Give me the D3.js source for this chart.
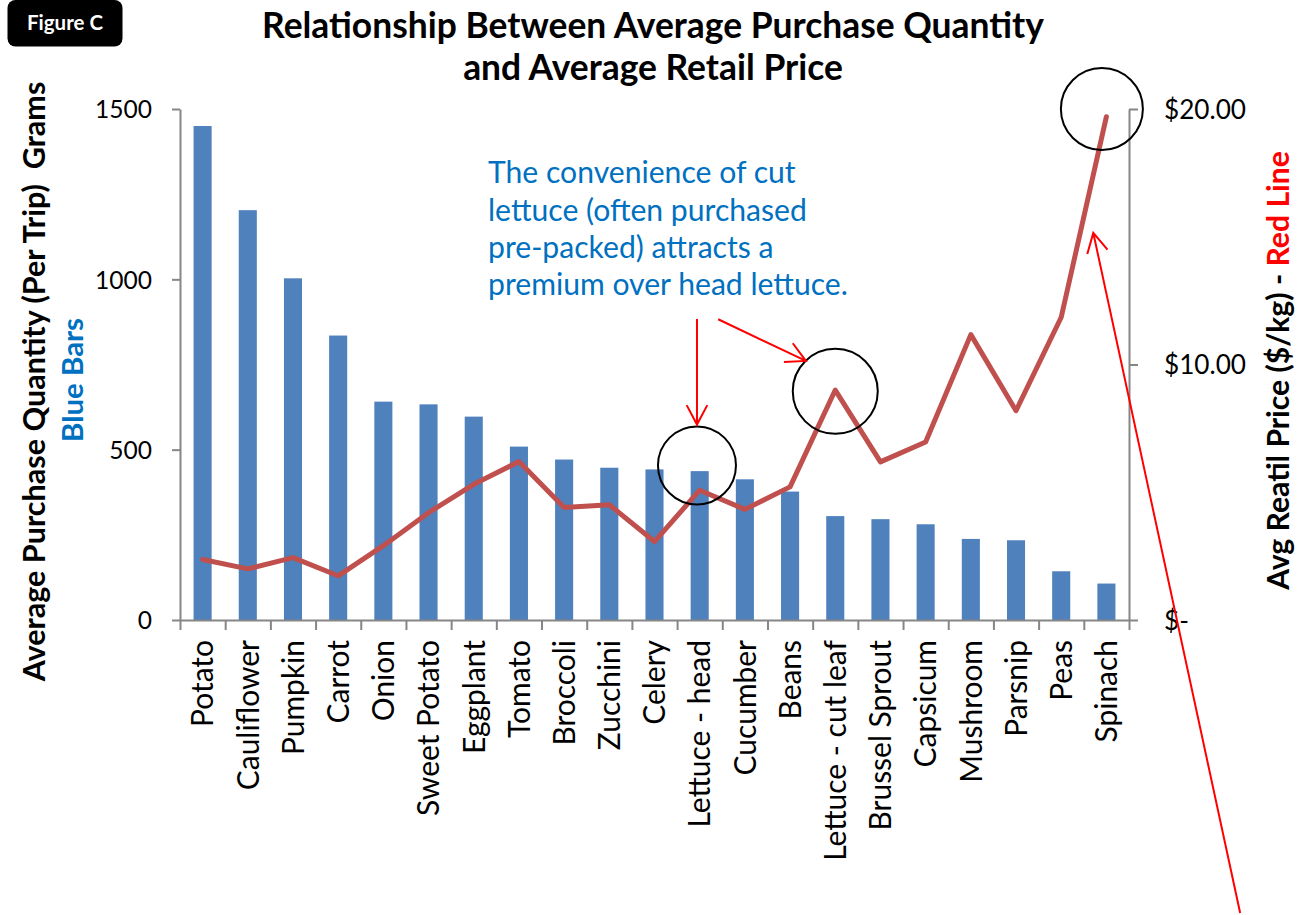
<!DOCTYPE html>
<html>
<head>
<meta charset="utf-8">
<script src="https://cdn.jsdelivr.net/npm/d3@7"></script>
<style>
  html, body { margin: 0; padding: 0; background: #fff; }
  svg { display: block; }
  text { font-family: Lato, "Open Sans", sans-serif; }
</style>
</head>
<body>
<svg id="chart" width="1303" height="915"></svg>
<script>
// Vegetables, ordered by average purchase quantity
const categories = ["Potato", "Cauliflower", "Pumpkin", "Carrot", "Onion", "Sweet Potato",
  "Eggplant", "Tomato", "Broccoli", "Zucchini", "Celery", "Lettuce - head", "Cucumber",
  "Beans", "Lettuce - cut leaf", "Brussel Sprout", "Capsicum", "Mushroom", "Parsnip",
  "Peas", "Spinach"];

// Average purchase quantity per trip (grams) – blue bars
const quantity = [1450, 1203, 1003, 835, 641, 633, 597, 509, 471, 447, 442, 437, 413,
  377, 305, 296, 281, 238, 234, 143, 107];

// Average retail price ($/kg) – red line
const price = [2.37, 2.00, 2.44, 1.73, 2.91, 4.20, 5.31, 6.20, 4.40, 4.51, 3.07, 5.08,
  4.33, 5.21, 9.00, 6.19, 6.97, 11.17, 8.19, 11.85, 19.7];

// Axis ticks
const quantityTicks = [0, 500, 1000, 1500];
const priceTicks = [0, 10, 20];

// Callout circles: centre given as (category position, price)
const calloutCircles = [
  { at: 11.44, price: 6.05, r: 39 },
  { at: 14.5, price: 8.95, r: 42.5 },
  { at: 20.4, price: 20.0, r: 41 }
];
// Callout arrows: from -> to in (category position, price)
const calloutArrows = [
  { from: [11.44, 11.78], to: [11.44, 7.65] },
  { from: [11.91, 11.77], to: [13.85, 10.14] },
  { from: [23.46, -11.47], to: [20.21, 15.15] }
];

const noteLines = ["The convenience of cut", "lettuce (often purchased",
  "pre-packed) attracts a", "premium over head lettuce."];

const svg = d3.select("#chart");
const plotLeft = 180, plotRight = 1129, plotTop = 109, plotBottom = 620;
const axisColor = "#868686";

const x = d3.scaleBand().domain(categories).range([plotLeft, plotRight])
  .paddingInner(0.6).paddingOuter(0.3);
const pos = d3.scaleLinear().domain([0, categories.length]).range([plotLeft, plotRight]);
const yQ = d3.scaleLinear().domain([0, 1500]).range([plotBottom, plotTop]);
const yP = d3.scaleLinear().domain([0, 20]).range([plotBottom, plotTop]);

// scale a text's font so that it spans the given length
function fitTo(sel, target) {
  const fs = parseFloat(sel.attr("font-size"));
  const len = sel.node().getComputedTextLength();
  const size = fs * target / len;
  sel.attr("font-size", size);
  return size;
}

// Bars
svg.append("g").selectAll("rect").data(categories).join("rect")
  .attr("x", d => x(d))
  .attr("width", x.bandwidth())
  .attr("y", (d, i) => yQ(quantity[i]))
  .attr("height", (d, i) => yQ(0) - yQ(quantity[i]))
  .attr("fill", "#4F81BD");

// Left axis
const gL = svg.append("g").attr("transform", `translate(${plotLeft},0)`)
  .call(d3.axisLeft(yQ).tickValues(quantityTicks).tickSize(8).tickSizeOuter(0).tickPadding(20)
    .tickFormat(d3.format("d")));
// Right axis
const gR = svg.append("g").attr("transform", `translate(${plotRight},0)`)
  .call(d3.axisRight(yP).tickValues(priceTicks).tickSize(9).tickSizeOuter(0).tickPadding(26)
    .tickFormat(d => d === 0 ? "$-" : "$" + d.toFixed(2)));
// Bottom axis: category boundary ticks
const gB = svg.append("g").attr("transform", `translate(0,${plotBottom})`)
  .call(d3.axisBottom(pos).tickValues(d3.range(0, categories.length + 1))
    .tickSize(10).tickSizeOuter(0).tickFormat(""));
// Bottom axis: category labels
const gLab = svg.append("g").attr("transform", `translate(0,${plotBottom})`)
  .call(d3.axisBottom(x).tickSize(0));
gLab.select(".domain").remove();

[gL, gR, gB].forEach(g => {
  g.selectAll("path.domain, line").attr("stroke", axisColor).attr("stroke-width", 2);
});
[gL, gR, gB, gLab].forEach(g => g.attr("font-family", null).attr("font-size", null));

gL.selectAll("text").attr("font-size", 26).attr("fill", "#000").attr("dy", "0.36em");
const tickSize = fitTo(gL.selectAll("text").filter(d => d === 1500), 57);
gL.selectAll("text").attr("font-size", tickSize);
gR.selectAll("text").attr("font-size", tickSize).attr("fill", "#000").attr("dy", "0.36em");
const rTickSize = fitTo(gR.selectAll("text").filter(d => d === 20), 82);
gR.selectAll("text").attr("font-size", rTickSize);

gLab.selectAll("text")
  .attr("font-size", 30).attr("fill", "#000")
  .attr("transform", "rotate(-90)")
  .attr("text-anchor", "end")
  .attr("x", -20).attr("y", 0).attr("dy", "0.36em");
const labSize = fitTo(gLab.selectAll("text").filter(d => d === "Sweet Potato"), 176);
gLab.selectAll("text").attr("font-size", labSize);

// Price line
const line = d3.line()
  .x((d, i) => x(categories[i]) + x.bandwidth() / 2)
  .y(d => yP(d));
svg.append("path").datum(price)
  .attr("d", line)
  .attr("fill", "none")
  .attr("stroke", "#C0504D")
  .attr("stroke-width", 5)
  .attr("stroke-linejoin", "round")
  .attr("stroke-linecap", "round");

// Callout circles
svg.append("g").selectAll("circle").data(calloutCircles).join("circle")
  .attr("cx", d => pos(d.at))
  .attr("cy", d => yP(d.price))
  .attr("r", d => d.r)
  .attr("fill", "none")
  .attr("stroke", "#000")
  .attr("stroke-width", 2);

// Callout arrows with open heads
const arm = 22, spread = 28 * Math.PI / 180;
svg.append("g").selectAll("path").data(calloutArrows).join("path")
  .attr("d", d => {
    const x1 = pos(d.from[0]), y1 = yP(d.from[1]);
    const x2 = pos(d.to[0]), y2 = yP(d.to[1]);
    const back = Math.atan2(y1 - y2, x1 - x2);
    const a1 = back - spread, a2 = back + spread;
    return `M${x1},${y1}L${x2},${y2}` +
      `M${x2 + arm * Math.cos(a1)},${y2 + arm * Math.sin(a1)}L${x2},${y2}` +
      `L${x2 + arm * Math.cos(a2)},${y2 + arm * Math.sin(a2)}`;
  })
  .attr("fill", "none")
  .attr("stroke", "#FF0000")
  .attr("stroke-width", 2);

// Note text
const note = svg.append("g");
const noteText = note.selectAll("text").data(noteLines).join("text")
  .attr("x", 488)
  .attr("y", (d, i) => 183.3 + i * 37.3)
  .attr("font-size", 26)
  .attr("fill", "#0070C0")
  .text(d => d);
const noteSize = fitTo(noteText.filter((d, i) => i === 3), 360);
noteText.attr("font-size", noteSize);

// Title
const t1 = svg.append("text").attr("x", 653).attr("y", 38).attr("text-anchor", "middle")
  .attr("font-weight", "bold").attr("font-size", 32).attr("fill", "#000")
  .text("Relationship Between Average Purchase Quantity");
const titleSize = fitTo(t1, 782);
svg.append("text").attr("x", 653).attr("y", 80).attr("text-anchor", "middle")
  .attr("font-weight", "bold").attr("font-size", titleSize).attr("fill", "#000")
  .text("and Average Retail Price");

// Figure badge
svg.append("rect").attr("x", 7.5).attr("y", 0).attr("width", 115).attr("height", 46.5)
  .attr("rx", 8).attr("fill", "#000");
const badge = svg.append("text").attr("x", 65).attr("y", 30).attr("text-anchor", "middle")
  .attr("font-weight", "bold").attr("font-size", 18).attr("fill", "#fff")
  .text("Figure C");
fitTo(badge, 76);

// Left axis titles
const lt = svg.append("text").attr("transform", "translate(45,381.5) rotate(-90)")
  .attr("text-anchor", "middle").attr("font-weight", "bold").attr("font-size", 30)
  .attr("fill", "#000").attr("xml:space", "preserve")
  .text("Average Purchase Quantity (Per Trip)  Grams");
fitTo(lt, 600);
const bb = svg.append("text").attr("transform", "translate(82.5,380) rotate(-90)")
  .attr("text-anchor", "middle").attr("font-weight", "bold").attr("font-size", 30)
  .attr("fill", "#0070C0").text("Blue Bars");
fitTo(bb, 124);

// Right axis title
const rt = svg.append("text").attr("transform", "translate(1289,370.5) rotate(-90)")
  .attr("text-anchor", "middle").attr("font-weight", "bold").attr("font-size", 30);
rt.append("tspan").attr("fill", "#000").text("Avg Reatil Price ($/kg) - ");
rt.append("tspan").attr("fill", "#FF0000").text("Red Line");
fitTo(rt, 439);
</script>
</body>
</html>
